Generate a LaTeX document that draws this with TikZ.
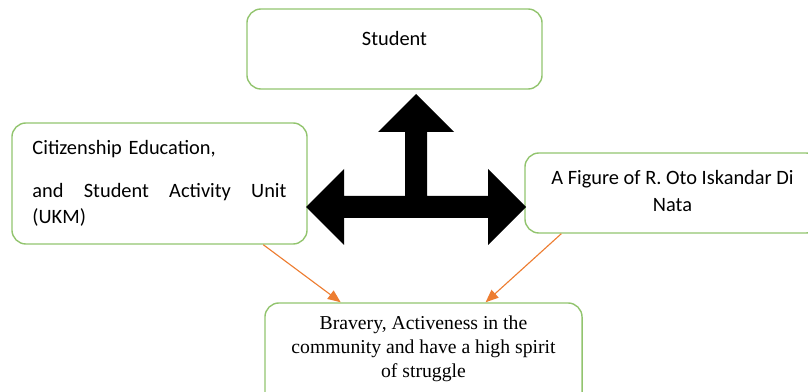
\documentclass[tikz,border=0pt]{standalone}
\usepackage{fontspec}
\setmainfont{Liberation Serif}
\newfontfamily\boxfont{Carlito}
\usetikzlibrary{positioning, arrows.meta, calc}

\definecolor{boxgreen}{RGB}{146,196,110}
\definecolor{linkorange}{RGB}{237,125,49}

\begin{document}
\begin{tikzpicture}[
    x=0.025cm, y=-0.025cm,
    box/.style={
        draw=boxgreen,
        line width=1pt,
        rounded corners=0.35cm,
        minimum width=7.375cm,
        inner xsep=0.5cm,
        inner ysep=0pt,
        font=\boxfont\fontsize{14.5}{18.5}\selectfont
    },
    link/.style={-{Triangle[length=3.2mm,width=2.6mm]}, linkorange, line width=0.8pt}
]
\useasboundingbox (0,0) rectangle (808,392);

% Boxes
\node[box, align=center, text height=0.925cm, text depth=1.075cm] (student) at (394.5,49) {Student};

\node[box, align=left, text width=6.35cm, text height=0.8cm, text depth=2.225cm] (citizen) at (159.5,183.5)
    {Citizenship Education,\\[12pt]
     and\hfill Student\hfill Activity\hfill Unit\\
     (UKM)};

\node[box, align=flush center, text width=6.35cm, text height=0.8cm, text depth=1.2cm] (figure) at (672.5,193)
    {A Figure of R. Oto Iskandar Di\\Nata};

\node[box, align=flush center, minimum width=7.925cm, text width=6.925cm, text height=0.675cm, text depth=2.35cm,
      font=\rmfamily\fontsize{14}{17}\selectfont] (bravery) at (423.5,363.5)
    {Bravery, Activeness in the\\community and have a high spirit\\of struggle};

% Three-way block arrow
\fill[black] (416,94) -- (454,132) -- (427,132) -- (427,196) -- (488,196) -- (488,169)
    -- (526,207) -- (488,245) -- (488,218) -- (344,218) -- (344,245) -- (306,207)
    -- (344,169) -- (344,196) -- (405,196) -- (405,132) -- (378,132) -- cycle;

% Links
\draw[link] ($(citizen.south)!0.7!(citizen.south east)$) -- ($(bravery.north west)!0.48!(bravery.north)$);
\draw[link] ($(figure.south)!0.75!(figure.south west)$) -- ($(bravery.north)!0.39!(bravery.north east)$);

\end{tikzpicture}
\end{document}
